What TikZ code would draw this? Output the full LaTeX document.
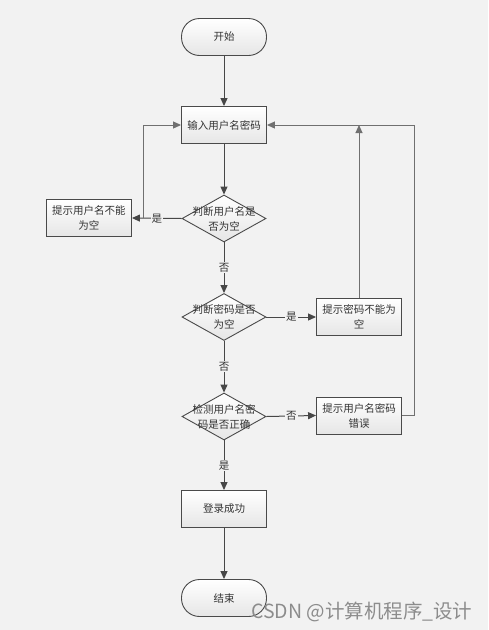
\documentclass[tikz,border=0pt]{standalone}
\usepackage{fontspec}
\newfontfamily\cjk{Noto Sans CJK SC}
\usetikzlibrary{arrows.meta,shapes.geometric}
\definecolor{bg}{HTML}{F2F2F2}
\definecolor{txt}{HTML}{333333}
\definecolor{bd}{HTML}{4A4A4A}
\definecolor{boxb}{HTML}{E6E6E6}
\definecolor{ln}{HTML}{474747}
\definecolor{lnb}{HTML}{707070}
\definecolor{wmc}{HTML}{8C8C8C}
\begin{document}
\begin{tikzpicture}[x=1pt,y=-1pt,
  every node/.style={font=\cjk\fontsize{10.5}{15}\selectfont, text=txt},
  proc/.style={draw=bd, line width=0.9pt, top color=white, bottom color=boxb,
    minimum width=85pt, minimum height=37pt, inner sep=0pt, align=center},
  term/.style={proc, rounded corners=18pt},
  dec/.style={draw=bd, line width=0.9pt, diamond, top color=white, bottom color=boxb,
    minimum width=84pt, minimum height=47pt, inner sep=0pt},
  dectext/.style={align=center, inner sep=0pt},
  flow/.style={draw=ln, line width=1pt, -{Triangle[length=8pt,width=7pt]}},
  back/.style={draw=lnb, line width=1pt, -{Triangle[length=8pt,width=7pt]}},
  lbl/.style={fill=bg, inner sep=1pt}]
\fill[bg] (0,0) rectangle (488,630);
\useasboundingbox (0,0) rectangle (488,630);

\node[term] (start) at (224,37) {开始};
\node[proc] (input) at (224,125) {输入用户名密码};
\node[dec] (d1) at (224,218.5) {};
\node[dectext] (d1t) at (224,218.5) {判断用户名是\\否为空};
\node[proc] (b1) at (89,218) {提示用户名不能\\为空};
\node[dec] (d2) at (224,317) {};
\node[dectext] (d2t) at (224,317) {判断密码是否\\为空};
\node[proc] (b2) at (359,317) {提示密码不能为\\空};
\node[dec] (d3) at (224,416.5) {};
\node[dectext] (d3t) at (224,416.5) {检测用户名密\\码是否正确};
\node[proc] (b3) at (359,415.5) {提示用户名密码\\错误};
\node[proc] (ok) at (224,509) {登录成功};
\node[term] (end) at (224,598) {结束};

\coordinate (j1) at (143,218);
\coordinate (j2) at (359,125);
\coordinate (c3) at (414,125);

\draw[flow] (start) -- (input);
\draw[flow] (input) -- (d1);
\draw[flow] (d1.west) -- node[lbl] {是} (b1.east);
\draw[back] (j1) |- (input.west);
\draw[flow] (d1) -- node[lbl] {否} (d2);
\draw[flow] (d2.east) -- node[lbl] {是} (b2.west);
\draw[back] (b2.north) -- (j2);
\draw[flow] (d2) -- node[lbl] {否} (d3);
\draw[flow] (d3.east) -- node[lbl] {否} (b3.west);
\draw[back] (b3.east) -| (c3) -- (input.east);
\draw[flow] (d3) -- node[lbl] {是} (ok);
\draw[flow] (ok) -- (end);

\node[font=\cjk\fontsize{19.5}{19.5}\selectfont, text=wmc, anchor=base west, inner sep=0pt] (wm) at (251,618) {CSDN @计算机程序\_设计};
\end{tikzpicture}
\end{document}
